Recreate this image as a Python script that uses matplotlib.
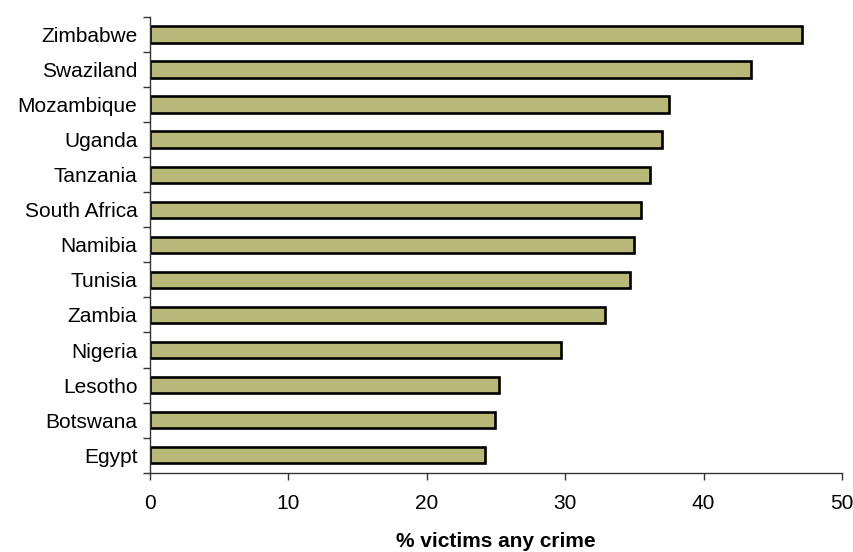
import numpy as np
import matplotlib
matplotlib.use('Agg')
import matplotlib.pyplot as plt

# Data (top to bottom)
countries = ['Zimbabwe', 'Swaziland', 'Mozambique', 'Uganda', 'Tanzania',
             'South Africa', 'Namibia', 'Tunisia', 'Zambia', 'Nigeria',
             'Lesotho', 'Botswana', 'Egypt']
victims_pct = [47.1, 43.4, 37.5, 37.0, 36.1, 35.5, 35.0, 34.7, 32.9, 29.7,
               25.2, 24.9, 24.2]
x_ticks = [0, 10, 20, 30, 40, 50]

plt.rcParams['font.family'] = ['Liberation Sans', 'DejaVu Sans']

fig = plt.figure(figsize=(8.54, 5.52), dpi=100)
ax = fig.add_axes([150 / 854, 1 - 472.7 / 552, 692 / 854, (472.7 - 17) / 552])

# reverse so the first country ends up on top
y = np.arange(len(countries))[::-1]
ax.barh(y, victims_pct, height=0.47, color='#b8b878', edgecolor='black',
        linewidth=1.9)

ax.set_xlim(0, 50)
ax.set_ylim(-0.5, len(countries) - 0.5)
ax.set_xticks(x_ticks)
ax.set_xticklabels([str(t) for t in x_ticks], fontsize=15)
ax.set_yticks(y)
ax.set_yticklabels(countries, fontsize=15)
ax.set_yticks(np.arange(-0.5, len(countries)), minor=True)

ax.tick_params(axis='y', which='major', length=0, pad=9)
ax.tick_params(axis='y', which='minor', length=5, width=1, color='#333333',
               direction='out')
ax.tick_params(axis='x', which='major', length=5, width=1, color='#333333',
               direction='out', pad=10)

for side in ['top', 'right']:
    ax.spines[side].set_visible(False)
for side in ['left', 'bottom']:
    ax.spines[side].set_color('#333333')
    ax.spines[side].set_linewidth(1.0)

ax.set_xlabel('% victims any crime', fontsize=15, fontweight='bold',
              labelpad=14)

plt.savefig('out.png', dpi=100)
